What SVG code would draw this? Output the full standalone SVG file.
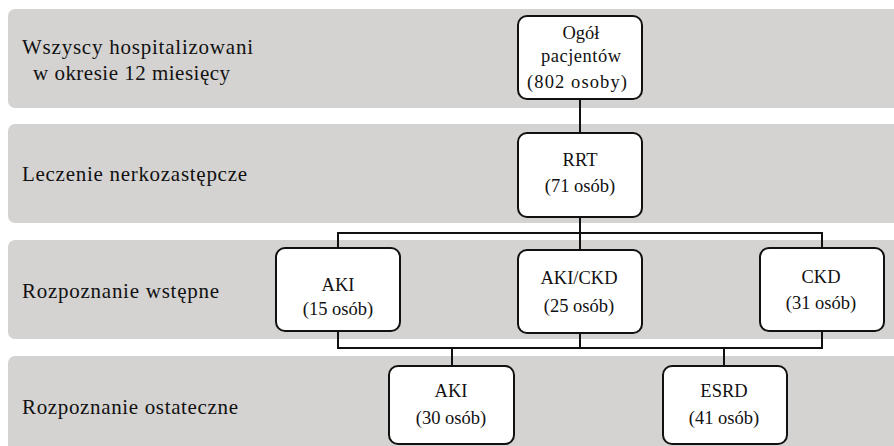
<svg xmlns="http://www.w3.org/2000/svg" width="894" height="446" viewBox="0 0 894 446">
<style>
.band{fill:#d4d3d1}
.lbl{font-size:21px;fill:#111}
.box{fill:#fff;stroke:#111;stroke-width:2}
.nt{font-size:18.5px;fill:#111;text-anchor:middle}
.con{fill:none;stroke:#111;stroke-width:2}
</style>
<rect width="894" height="446" fill="#fff"/>
<g id="bands">
<rect class="band" x="8" y="9" width="900" height="99" rx="7"/>
<rect class="band" x="8" y="124" width="900" height="99" rx="7"/>
<rect class="band" x="8" y="240" width="900" height="99" rx="7"/>
<rect class="band" x="8" y="356" width="900" height="110" rx="7"/>
</g>
<g id="labels" font-family="'Liberation Serif', 'Times New Roman', Times, serif">
<text class="lbl" x="22" y="54" textLength="231" lengthAdjust="spacing">Wszyscy hospitalizowani</text>
<text class="lbl" x="33" y="80" textLength="197" lengthAdjust="spacing">w okresie 12 miesięcy</text>
<text class="lbl" x="22" y="181" textLength="225" lengthAdjust="spacing">Leczenie nerkozastępcze</text>
<text class="lbl" x="22" y="298" textLength="197" lengthAdjust="spacing">Rozpoznanie wstępne</text>
<text class="lbl" x="22" y="414" textLength="216" lengthAdjust="spacing">Rozpoznanie ostateczne</text>
</g>
<g id="connectors">
<line class="con" x1="580" y1="99" x2="580" y2="133"/>
<line class="con" x1="580" y1="217" x2="580" y2="250"/>
<polyline class="con" points="338,248 338,233 822,233 822,248"/>
<polyline class="con" points="338,331 338,348 822,348 822,331"/>
<line class="con" x1="580" y1="333" x2="580" y2="348"/>
<line class="con" x1="452" y1="348" x2="452" y2="366"/>
<line class="con" x1="724" y1="348" x2="724" y2="366"/>
</g>
<g font-family="'Liberation Serif', 'Times New Roman', Times, serif">
<g id="node-ogol">
<rect class="box" x="518" y="16" width="124" height="83" rx="9"/>
<text class="nt" x="581" y="39">Ogół</text>
<text class="nt" x="581" y="62" textLength="80" lengthAdjust="spacing">pacjentów</text>
<text class="nt" x="577" y="88" textLength="100" lengthAdjust="spacing">(802 osoby)</text>
</g>
<g id="node-rrt">
<rect class="box" x="518" y="133" width="124" height="84" rx="9"/>
<text class="nt" x="580" y="166">RRT</text>
<text class="nt" x="580" y="192">(71 osób)</text>
</g>
<g id="node-aki1">
<rect class="box" x="276" y="248" width="124" height="83" rx="9"/>
<text class="nt" x="338" y="291">AKI</text>
<text class="nt" x="338" y="315">(15 osób)</text>
</g>
<g id="node-akickd">
<rect class="box" x="518" y="250" width="124" height="83" rx="9"/>
<text class="nt" x="579" y="284">AKI/CKD</text>
<text class="nt" x="579" y="312">(25 osób)</text>
</g>
<g id="node-ckd">
<rect class="box" x="760" y="248" width="124" height="83" rx="9"/>
<text class="nt" x="821" y="283">CKD</text>
<text class="nt" x="821" y="309">(31 osób)</text>
</g>
<g id="node-aki2">
<rect class="box" x="389" y="366" width="125" height="78" rx="9"/>
<text class="nt" x="451" y="397">AKI</text>
<text class="nt" x="451" y="424">(30 osób)</text>
</g>
<g id="node-esrd">
<rect class="box" x="663" y="366" width="124" height="78" rx="9"/>
<text class="nt" x="724" y="397">ESRD</text>
<text class="nt" x="724" y="424">(41 osób)</text>
</g>
</g>
</svg>
